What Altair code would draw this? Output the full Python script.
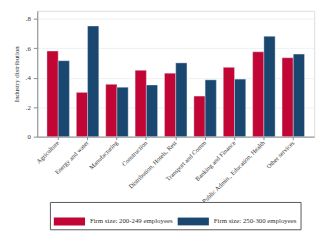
import altair as alt
import pandas as pd

categories = ["Agriculture", "Energy and water", "Manufacturing", "Construction",
              "Distribution, Hotels, Rest", "Transport and Comm", "Banking and Finance",
              "Public Admin., Education, Health", "Other services"]
series = ["Firm size: 200-249 employees", "Firm size: 250-300 employees"]
small_firms = [0.58, 0.30, 0.355, 0.45, 0.43, 0.275, 0.47, 0.575, 0.535]
large_firms = [0.515, 0.75, 0.335, 0.35, 0.50, 0.385, 0.39, 0.68, 0.56]
colors = ["#C10534", "#1A476F"]

rows = []
for c, a, b in zip(categories, small_firms, large_firms):
    rows.append({"industry": c, "group": series[0], "value": a})
    rows.append({"industry": c, "group": series[1], "value": b})
df = pd.DataFrame(rows)

FONT = "Liberation Serif"

chart = alt.Chart(df).mark_bar(stroke="#e8eef5", strokeWidth=0.4).encode(
    x=alt.X("industry:N", sort=categories,
            scale=alt.Scale(paddingInner=0.236, paddingOuter=0.33),
            axis=alt.Axis(title=None, labelAngle=-45, labelAlign="right", labelBaseline="middle",
                          labelFont=FONT, labelFontSize=6.5, labelColor="#333333",
                          domainColor="#888888", tickColor="#888888", tickSize=3,
                          labelPadding=2, grid=False, labelLimit=200)),
    xOffset=alt.XOffset("group:N", sort=series),
    y=alt.Y("value:Q", scale=alt.Scale(domain=[0, 0.853], nice=False),
            axis=alt.Axis(title="Industry distribution", values=[0, 0.2, 0.4, 0.6, 0.8],
                          labelExpr="datum.value == 0 ? '0' : replace(format(datum.value, '.1f'), '0.', '.')",
                          titleFont=FONT, titleFontSize=7, titleFontWeight="normal", titleColor="#333333",
                          titlePadding=6,
                          labelFont=FONT, labelFontSize=7, labelColor="#333333",
                          domainColor="#888888", tickColor="#888888", tickSize=4, labelPadding=3,
                          gridColor="#EAF2F3", gridWidth=1)),
    color=alt.Color("group:N", sort=series,
                    scale=alt.Scale(domain=series, range=colors),
                    legend=alt.Legend(title=None, orient="none", legendX=13, legendY=196,
                                      direction="horizontal",
                                      symbolType="M-1,-0.25H1V0.25H-1Z", symbolSize=1024,
                                      symbolStrokeWidth=0, symbolOpacity=1,
                                      labelFont=FONT, labelFontSize=7, labelColor="#333333",
                                      labelOffset=5, columnPadding=5,
                                      padding=4, strokeColor="#555555", fillColor="white",
                                      labelLimit=200)),
).properties(
    width=284, height=129,
    autosize=alt.AutoSizeParams(type="none"),
    padding={"left": 30, "top": 0, "right": 8, "bottom": 100},
).configure_view(stroke=None).configure(background="white")

chart.save("out.html", embed_options={"renderer": "svg", "actions": False})
